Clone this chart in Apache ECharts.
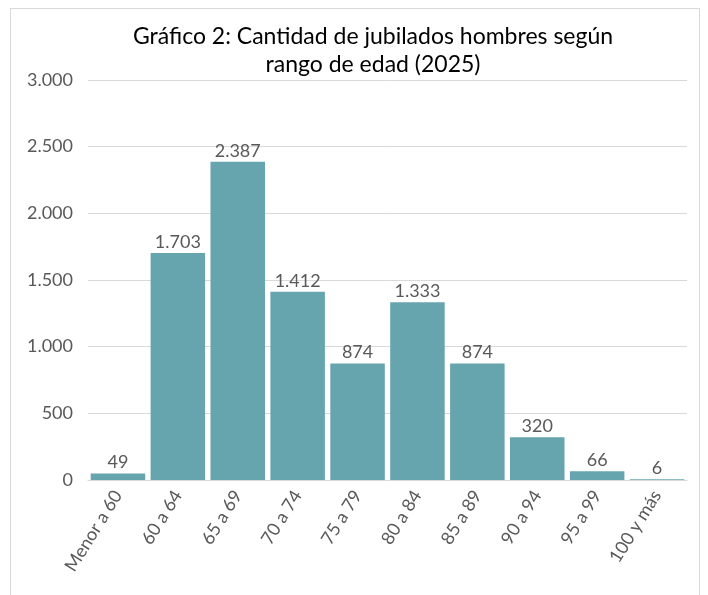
<!DOCTYPE html>
<html>
<head>
<meta charset="utf-8">
<script src="https://cdn.jsdelivr.net/npm/echarts@6/dist/echarts.min.js"></script>
<style>
  html, body { margin: 0; padding: 0; background: #fff; }
  #main { width: 708px; height: 595px; }
  .frame { position: absolute; left: 10px; top: 8px; width: 688px; height: 600px; border: 1px solid #d9d9d9; pointer-events: none; }
</style>
</head>
<body>
<div id="main"></div>
<div class="frame"></div>
<script>
// datos del gráfico
var categorias = ["Menor a 60", "60 a 64", "65 a 69", "70 a 74", "75 a 79", "80 a 84", "85 a 89", "90 a 94", "95 a 99", "100 y más"];
var jubilados = [49, 1703, 2387, 1412, 874, 1333, 874, 320, 66, 6];
var titulo = "Gráfico 2: Cantidad de jubilados hombres según\nrango de edad (2025)";

function miles(v) {
  return String(v).replace(/\B(?=(\d{3})+(?!\d))/g, ".");
}

var chart = echarts.init(document.getElementById("main"));
chart.setOption({
  animation: false,
  textStyle: { fontFamily: "Lato" },
  title: {
    text: titulo,
    left: 368,
    textAlign: "center",
    top: 18,
    textStyle: { fontSize: 23, fontWeight: "normal", color: "#000", lineHeight: 28, fontFamily: "Lato" }
  },
  grid: { left: 88, right: 21, top: 80, bottom: 115 },
  xAxis: {
    type: "category",
    data: categorias,
    axisLine: { lineStyle: { color: "#d9d9d9" } },
    axisTick: { show: false },
    axisLabel: { rotate: 58, color: "#595959", fontSize: 18, margin: 12, interval: 0 }
  },
  yAxis: {
    type: "value",
    min: 0,
    max: 3000,
    interval: 500,
    axisLine: { show: false },
    axisTick: { show: false },
    splitLine: { lineStyle: { color: "#d9d9d9" } },
    axisLabel: { color: "#595959", fontSize: 18, margin: 15, formatter: miles }
  },
  series: [{
    type: "bar",
    data: jubilados,
    barCategoryGap: "9%",
    itemStyle: { color: "#66a5ad" },
    label: {
      show: true,
      position: "top",
      distance: 2,
      color: "#595959",
      fontSize: 18,
      formatter: function (p) { return miles(p.value); }
    }
  }]
});
</script>
</body>
</html>
